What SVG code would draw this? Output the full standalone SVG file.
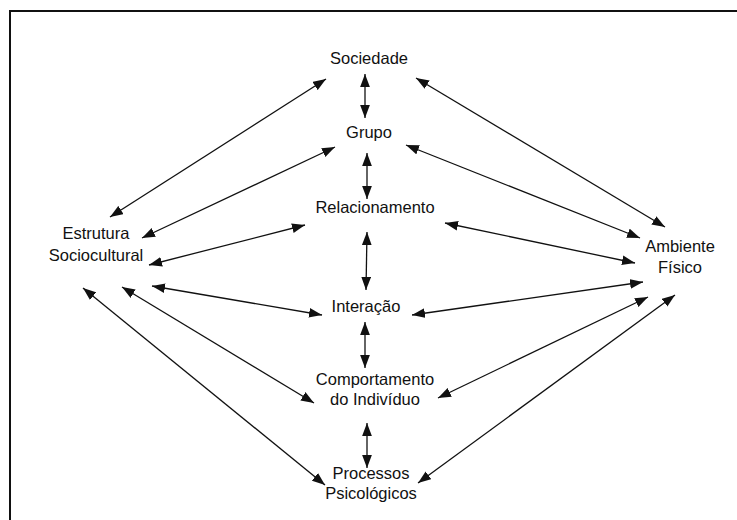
<svg xmlns="http://www.w3.org/2000/svg" width="737" height="520" viewBox="0 0 737 520">
<style>
text{font-family:"Liberation Sans",Arial,sans-serif;font-size:16.5px;fill:#111;text-anchor:middle}
.c line{stroke:#111;stroke-width:1.3;marker-start:url(#ah);marker-end:url(#ah)}
</style>
<defs>
<marker id="ah" markerUnits="userSpaceOnUse" markerWidth="13" markerHeight="10" refX="12" refY="4.5" orient="auto-start-reverse" viewBox="0 0 12 9">
<path d="M0,0 L12,4.5 L0,9 z" fill="#111"/>
</marker>
</defs>
<rect width="737" height="520" fill="#fff"/>
<path d="M10,520 L10,11 L737,11" fill="none" stroke="#111" stroke-width="2"/>
<g class="c" id="connectors">
<line x1="365" y1="74" x2="365" y2="118"/>
<line x1="367" y1="153" x2="367" y2="199"/>
<line x1="367" y1="232" x2="366" y2="290"/>
<line x1="365" y1="322" x2="365" y2="368"/>
<line x1="367" y1="423" x2="367" y2="468"/>
<line x1="110" y1="217" x2="326" y2="79"/>
<line x1="142" y1="238" x2="335" y2="147"/>
<line x1="149" y1="265" x2="305" y2="225"/>
<line x1="152" y1="286" x2="322" y2="315"/>
<line x1="122" y1="287" x2="314" y2="403"/>
<line x1="83" y1="288" x2="325" y2="485"/>
<line x1="416" y1="78" x2="665" y2="227"/>
<line x1="406" y1="145" x2="640" y2="238"/>
<line x1="445" y1="223" x2="635" y2="263"/>
<line x1="412" y1="315" x2="643" y2="282"/>
<line x1="438" y1="398" x2="648" y2="297"/>
<line x1="418" y1="483" x2="675" y2="295"/>
</g>
<g id="sociedade"><text x="369" y="64">Sociedade</text></g>
<g id="grupo"><text x="369" y="138">Grupo</text></g>
<g id="relacionamento"><text x="375" y="213">Relacionamento</text></g>
<g id="estrutura"><text x="96" y="239">Estrutura</text><text x="96" y="261">Sociocultural</text></g>
<g id="ambiente"><text x="680" y="252">Ambiente</text><text x="680" y="273">Físico</text></g>
<g id="interacao"><text x="366" y="312">Interação</text></g>
<g id="comportamento"><text x="375" y="385">Comportamento</text><text x="375" y="405">do Indivíduo</text></g>
<g id="processos"><text x="371" y="479">Processos</text><text x="371" y="499">Psicológicos</text></g>
</svg>
